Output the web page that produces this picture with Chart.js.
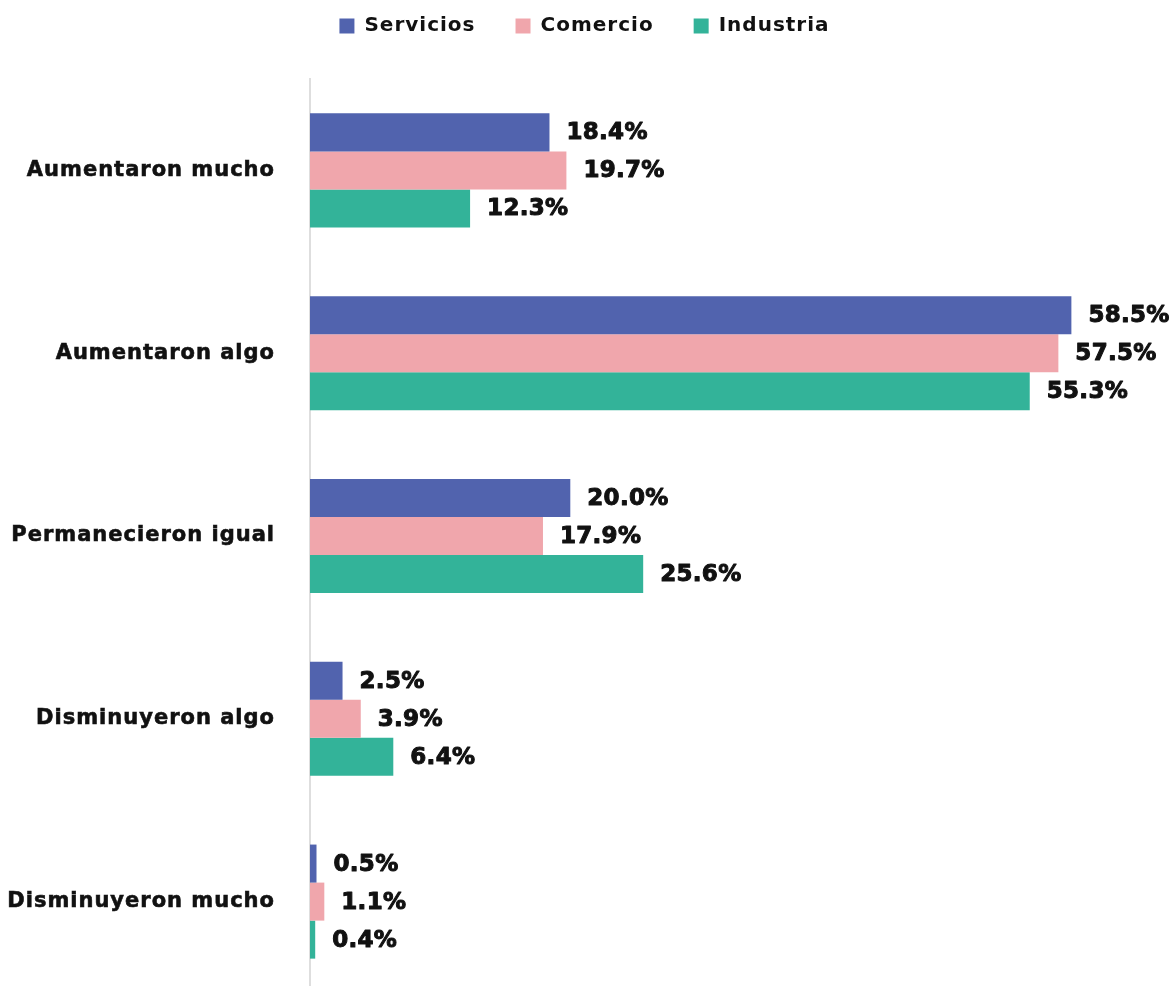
<!DOCTYPE html>
<html lang="es">
<head>
<meta charset="utf-8">
<title>Variación por sector</title>
<script src="https://cdn.jsdelivr.net/npm/chart.js@4.4.1/dist/chart.umd.min.js"></script>
<style>
	html, body {
		margin: 0;
		padding: 0;
		background: #fff;
		overflow: hidden;
	}
	#wrap {
		position: relative;
		width: 1173px;
		height: 993px;
	}
</style>
</head>
<body>
<div id="wrap"><canvas id="sector-chart"></canvas></div>
<script>
	'use strict';

	var categories = [
		'Aumentaron mucho',
		'Aumentaron algo',
		'Permanecieron igual',
		'Disminuyeron algo',
		'Disminuyeron mucho'
	];
	var servicios = [18.4, 58.5, 20.0, 2.5, 0.5];
	var comercio = [19.7, 57.5, 17.9, 3.9, 1.1];
	var industria = [12.3, 55.3, 25.6, 6.4, 0.4];

	var FONT = '"DejaVu Sans", Verdana, sans-serif';

	/**
	 * Slightly wider letter spacing for the geometric look of the original
	 */
	var spacing = {
		id: 'spacing',
		beforeLayout: function (chart) {
			chart.ctx.letterSpacing = '1px';
		},
		beforeDraw: function (chart) {
			chart.ctx.letterSpacing = '1px';
		}
	};

	/**
	 * Value labels at the end of every bar
	 */
	var valueLabels = {
		id: 'valueLabels',
		afterDatasetsDraw: function (chart) {
			var ctx = chart.ctx;
			ctx.save();
			ctx.letterSpacing = '0.3px';
			ctx.font = 'bold 23px ' + FONT;
			ctx.fillStyle = '#111';
			ctx.strokeStyle = '#111';
			ctx.lineWidth = 1;
			ctx.lineJoin = 'round';
			ctx.textAlign = 'left';
			ctx.textBaseline = 'middle';
			chart.data.datasets.forEach(function (ds, i) {
				var meta = chart.getDatasetMeta(i);
				meta.data.forEach(function (bar, j) {
					var txt = ds.data[j].toFixed(1) + '%';
					ctx.strokeText(txt, bar.x + 17, bar.y + 1);
					ctx.fillText(txt, bar.x + 17, bar.y + 1);
				});
			});
			ctx.restore();
		}
	};

	/**
	 * Fixed legend height so the plot starts where it should
	 */
	var legendHeight = {
		id: 'legendHeight',
		beforeInit: function (chart) {
			var fit = chart.legend.fit;
			chart.legend.fit = function () {
				fit.bind(chart.legend)();
				this.height = 103;
			};
		}
	};

	new Chart(document.getElementById('sector-chart'), {
		type: 'bar',
		data: {
			labels: categories,
			datasets: [
				{ label: 'Servicios', data: servicios, backgroundColor: '#5163ae' },
				{ label: 'Comercio', data: comercio, backgroundColor: '#f0a6ac' },
				{ label: 'Industria', data: industria, backgroundColor: '#33b399' }
			]
		},
		options: {
			indexAxis: 'y',
			responsive: true,
			maintainAspectRatio: false,
			animation: false,
			layout: {
				padding: { top: -24, right: 4, left: 0, bottom: 0 }
			},
			datasets: {
				bar: {
					categoryPercentage: 0.624,
					barPercentage: 1.0,
					borderWidth: 0
				}
			},
			plugins: {
				legend: {
					display: true,
					position: 'top',
					align: 'center',
					labels: {
						boxWidth: 15,
						boxHeight: 15,
						padding: 40,
						color: '#111',
						font: { family: FONT, size: 20, weight: 'bold' }
					}
				},
				tooltip: { enabled: false }
			},
			scales: {
				x: {
					display: false,
					min: 0,
					max: 66
				},
				y: {
					grid: { display: false, drawTicks: false },
					border: { display: true, color: '#dedede', width: 2 },
					ticks: {
						padding: 35,
						color: '#111',
						textStrokeColor: '#111',
						textStrokeWidth: 0.6,
						font: { family: FONT, size: 21, weight: 'bold' }
					},
					afterFit: function (scale) {
						scale.width = 310;
						scale.paddingTop = 0;
						scale.paddingBottom = 0;
					}
				}
			}
		},
		plugins: [spacing, valueLabels, legendHeight]
	});
</script>
</body>
</html>
